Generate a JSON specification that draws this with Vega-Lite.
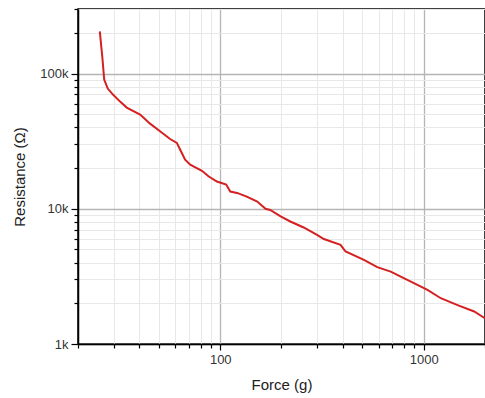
{
  "$schema": "https://vega.github.io/schema/vega-lite/v6.json",
  "width": 407,
  "height": 335,
  "autosize": {"type": "none"},
  "padding": {"left": 78, "top": 9, "right": 0, "bottom": 54},
  "background": "white",
  "config": {
    "font": "Liberation Sans",
    "view": {"stroke": "black", "strokeWidth": 1.5},
    "axis": {
      "domainColor": "black",
      "domainWidth": 1.5,
      "tickColor": "black",
      "tickWidth": 1.2,
      "labelColor": "#333",
      "labelFontSize": 13,
      "titleColor": "#222",
      "titleFontSize": 15,
      "titleFontWeight": "normal",
      "labelOverlap": false,
      "labelBound": false,
      "labelFlush": false
    }
  },
  "data": {
    "values": [
      {"force": 25.6, "resistance": 205000},
      {"force": 26.4, "resistance": 127000},
      {"force": 26.9, "resistance": 90300},
      {"force": 28.0, "resistance": 77400},
      {"force": 29.7, "resistance": 69900},
      {"force": 32.2, "resistance": 62000},
      {"force": 34.7, "resistance": 56000},
      {"force": 40.4, "resistance": 49700},
      {"force": 45.2, "resistance": 42600},
      {"force": 50.6, "resistance": 37400},
      {"force": 56.7, "resistance": 32800},
      {"force": 61.2, "resistance": 30700},
      {"force": 63.5, "resistance": 27400},
      {"force": 67.2, "resistance": 23100},
      {"force": 71.2, "resistance": 21200},
      {"force": 81.3, "resistance": 19100},
      {"force": 87.5, "resistance": 17400},
      {"force": 96.3, "resistance": 15900},
      {"force": 107, "resistance": 15100},
      {"force": 112, "resistance": 13400},
      {"force": 121, "resistance": 13100},
      {"force": 135, "resistance": 12300},
      {"force": 152, "resistance": 11300},
      {"force": 167, "resistance": 10000},
      {"force": 176, "resistance": 9800},
      {"force": 198, "resistance": 8770},
      {"force": 221, "resistance": 8050},
      {"force": 257, "resistance": 7270},
      {"force": 299, "resistance": 6420},
      {"force": 323, "resistance": 5970},
      {"force": 390, "resistance": 5410},
      {"force": 413, "resistance": 4830},
      {"force": 508, "resistance": 4190},
      {"force": 591, "resistance": 3700},
      {"force": 688, "resistance": 3430},
      {"force": 771, "resistance": 3150},
      {"force": 931, "resistance": 2740},
      {"force": 1043, "resistance": 2510},
      {"force": 1213, "resistance": 2180},
      {"force": 1466, "resistance": 1940},
      {"force": 1770, "resistance": 1740},
      {"force": 1997, "resistance": 1550}
    ]
  },
  "mark": {"type": "line", "color": "#d42020", "strokeWidth": 2, "clip": true},
  "encoding": {
    "x": {
      "field": "force",
      "type": "quantitative",
      "scale": {"type": "log", "domain": [20, 2000], "nice": false},
      "axis": {
        "title": "Force (g)",
        "titlePadding": 11,
        "values": [20, 30, 40, 50, 60, 70, 80, 90, 100, 200, 300, 400, 500, 600, 700, 800, 900, 1000, 2000],
        "labelExpr": "datum.value == 100 ? '100' : (datum.value == 1000 ? '1000' : '')",
        "labelPadding": 3,
        "tickSize": {"condition": {"test": "datum.value == 100 || datum.value == 1000", "value": 6}, "value": 4},
        "grid": true,
        "gridColor": {"condition": {"test": "datum.value == 100 || datum.value == 1000", "value": "#b5b5b5"}, "value": "#e8e8e8"},
        "gridWidth": {"condition": {"test": "datum.value == 100 || datum.value == 1000", "value": 1.3}, "value": 1}
      }
    },
    "y": {
      "field": "resistance",
      "type": "quantitative",
      "scale": {"type": "log", "domain": [1000, 300000], "nice": false},
      "axis": {
        "title": "Resistance (Ω)",
        "titlePadding": 12,
        "values": [1000, 2000, 3000, 4000, 5000, 6000, 7000, 8000, 9000, 10000, 20000, 30000, 40000, 50000, 60000, 70000, 80000, 90000, 100000, 200000, 300000],
        "labelExpr": "datum.value == 1000 ? '1k' : (datum.value == 10000 ? '10k' : (datum.value == 100000 ? '100k' : ''))",
        "labelPadding": 3,
        "tickSize": {"condition": {"test": "datum.value == 1000 || datum.value == 10000 || datum.value == 100000", "value": 7}, "value": 4},
        "grid": true,
        "gridColor": {"condition": {"test": "datum.value == 1000 || datum.value == 10000 || datum.value == 100000", "value": "#b5b5b5"}, "value": "#e8e8e8"},
        "gridWidth": {"condition": {"test": "datum.value == 1000 || datum.value == 10000 || datum.value == 100000", "value": 1.3}, "value": 1}
      }
    }
  }
}
